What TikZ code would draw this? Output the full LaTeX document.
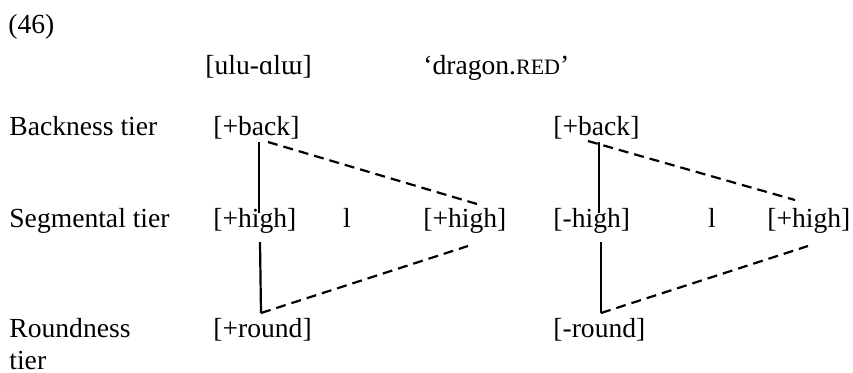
\documentclass[tikz,border=0pt]{standalone}
\usepackage{fontspec}
\setmainfont{Liberation Serif}
\usepackage{tikz}
\usetikzlibrary{calc}

\begin{document}
\begin{tikzpicture}[x=0.5pt, y=-0.5pt, font=\fontsize{13.8pt}{16pt}\selectfont,
    tier/.style={anchor=base west, inner sep=0pt},
    assoc/.style={line width=1.1pt},
    spread/.style={line width=1.1pt, dash pattern=on 5pt off 3pt}]
  \useasboundingbox (0,0) rectangle (853,372);
  % Example heading
  \node[tier] (num) at (8,33) {(46)};
  \node[tier] (form) at (205,74) {[ulu-ɑlɯ]};
  \node[tier] (gloss) at (423,74) {‘dragon.{\fontsize{11pt}{13pt}\selectfont RED}’};
  % Tier labels
  \node[tier] (lback) at (9,135) {Backness tier};
  \node[tier] (lseg) at (9,227) {Segmental tier};
  \node[tier] (lround) at (9,337) {Roundness};
  \node[tier] (lround2) at (9,369) {tier};
  % Left representation
  \node[tier] (b1) at (213,135) {[+back]};
  \node[tier] (h1) at (213,227) {[+high]};
  \node[anchor=base, inner sep=0pt] (l1) at (347,227) {l};
  \node[tier] (h2) at (423,227) {[+high]};
  \node[tier] (r1) at (213,337) {[+round]};
  % Right representation
  \node[tier] (b2) at (553,135) {[+back]};
  \node[tier] (h3) at (553,227) {[-high]};
  \node[anchor=base, inner sep=0pt] (l2) at (712,227) {l};
  \node[tier] (h4) at (767,227) {[+high]};
  \node[tier] (r2) at (553,337) {[-round]};
  % Associations
  \draw[assoc] ($(b1.base west)+(46,7)$) -- ($(h1.base west)+(46,-14)$);
  \draw[spread] ($(b1.base west)+(55,7)$) -- ($(h2.base west)+(54,-23)$);
  \draw[assoc] ($(h1.base west)+(47,15)$) -- ($(r1.base west)+(48,-24)$);
  \draw[spread] ($(r1.base west)+(48,-24)$) -- ($(h2.base west)+(45,19)$);
  \draw[assoc] ($(b2.base west)+(46,7)$) -- ($(h3.base west)+(46,-14)$);
  \draw[spread] ($(b2.base west)+(35,6)$) -- ($(h4.base west)+(28,-27)$);
  \draw[assoc] ($(h3.base west)+(48,15)$) -- ($(r2.base west)+(48,-24)$);
  \draw[spread] ($(r2.base west)+(48,-24)$) -- ($(h4.base west)+(41,19)$);
\end{tikzpicture}
\end{document}
